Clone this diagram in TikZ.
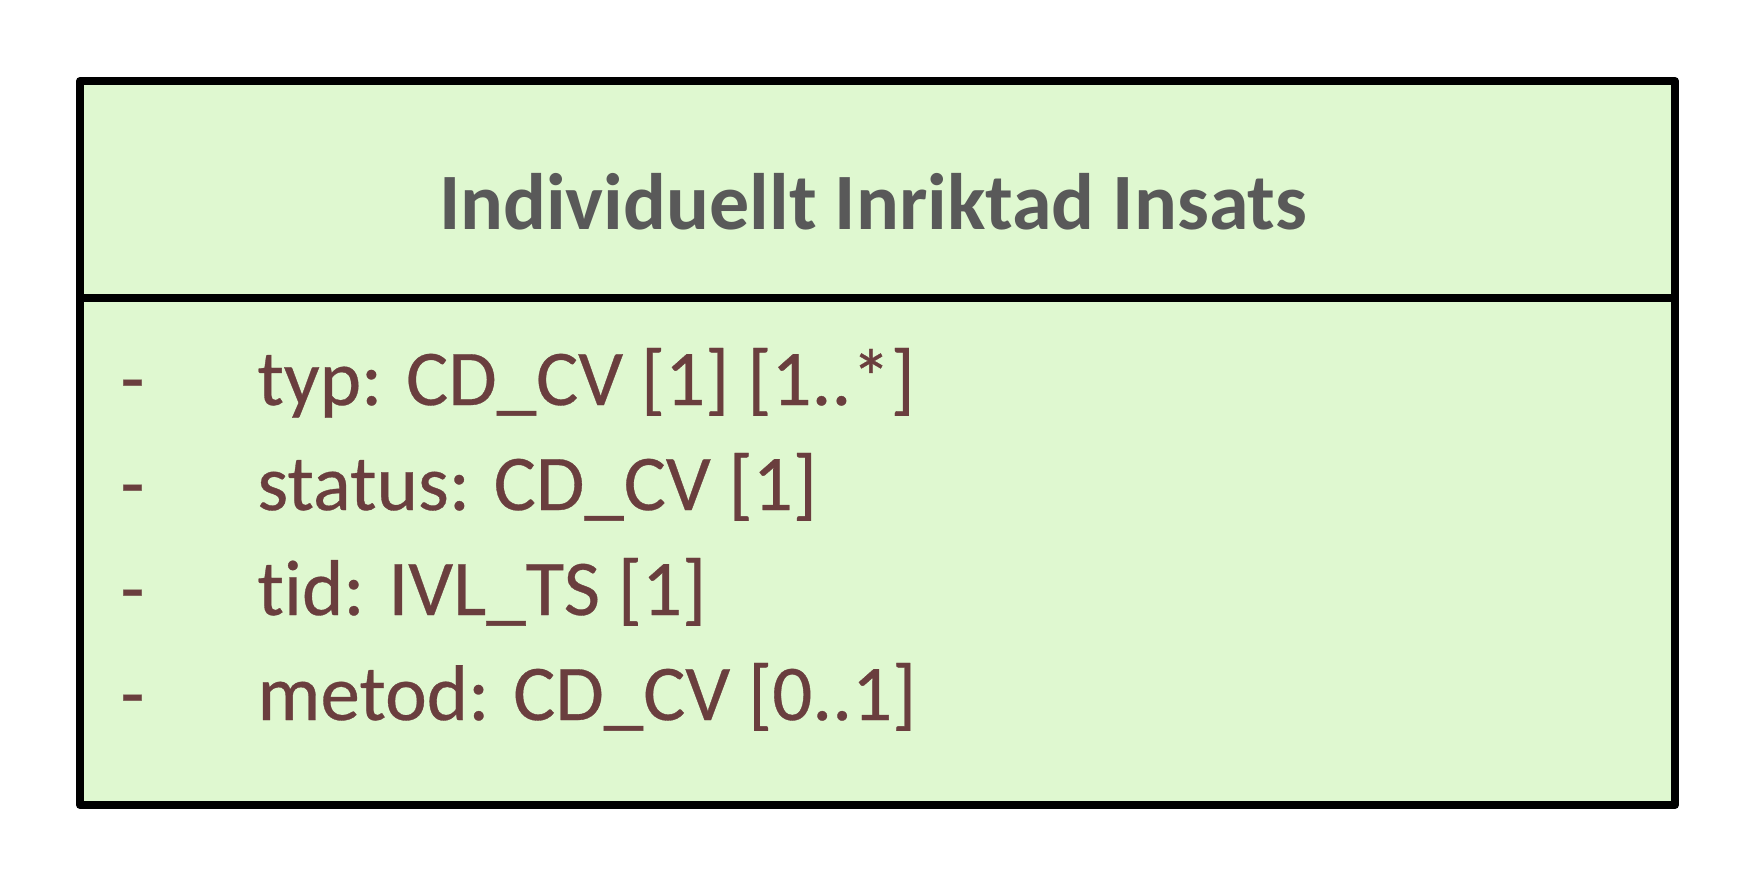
\documentclass[tikz,border=0pt]{standalone}
\usepackage{fontspec}
\setmainfont[Ligatures=NoCommon]{Carlito}
\newfontfamily\attrfont[Ligatures=NoCommon, FakeBold=0.4]{Carlito}
\definecolor{boxfill}{HTML}{DFF8D0}
\definecolor{titlegray}{HTML}{595959}
\definecolor{attrbrown}{HTML}{6A3E3E}
\tikzset{
  classbox/.style={draw=black, line width=4pt, line join=round, fill=boxfill},
  sepline/.style={draw=black, line width=3.6pt, line cap=round},
  titletext/.style={inner sep=0pt, anchor=base, text=titlegray, font=\fontsize{40}{48}\selectfont\bfseries},
  attrtext/.style={inner sep=0pt, anchor=base west, text=attrbrown, font=\fontsize{39.5}{48}\attrfont\bfseries\mdseries},
}
\begin{document}
\begin{tikzpicture}[x=0.5pt, y=-0.5pt]
\useasboundingbox (0,0) rectangle (1754,885);
\draw[classbox] (80,81) rectangle (1675,805);
\coordinate (sepL) at (80,298);
\coordinate (sepR) at (1671,298);
\draw[sepline] (sepL) -- (sepR);
\node[titletext] (title) at (873,229) {Individuellt Inriktad Insats};
\node[attrtext] (d1) at (120,405) {-};
\node[attrtext] (a1) at (257,405) {typ: CD\_CV [1] [1..*]};
\node[attrtext] (d2) at (120,510) {-};
\node[attrtext] (a2) at (257,510) {status: CD\_CV [1]};
\node[attrtext] (d3) at (120,615) {-};
\node[attrtext] (a3) at (257,615) {tid: IVL\_TS [1]};
\node[attrtext] (d4) at (120,720) {-};
\node[attrtext] (a4) at (257,720) {metod: CD\_CV [0..1]};
\end{tikzpicture}
\end{document}
